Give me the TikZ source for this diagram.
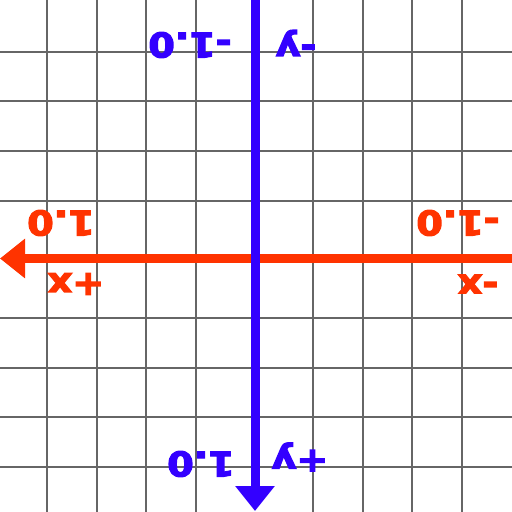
\documentclass[tikz,border=0pt]{standalone}
\usepackage{fontspec}
\newfontfamily\lblfont{DejaVu Sans Bold}[FakeBold=3.5]
\usepackage{xcolor}
\usepackage{tikz}
\usetikzlibrary{arrows.meta}
\definecolor{axisred}{HTML}{FF3300}
\definecolor{axisblue}{HTML}{3300FF}
\definecolor{gridgray}{HTML}{666666}
\newcommand{\wide}[1]{\scalebox{1.12}[1]{#1}}

\begin{document}
\begin{tikzpicture}[x=1pt, y=-1pt,
    gridline/.style={draw=gridgray, line width=1.6pt},
    axisline/.style={line width=9pt, -{Triangle[length=25pt, width=38pt]}},
    lbl/.style={rotate=180, inner sep=0pt, font=\lblfont\fontsize{34}{34}\selectfont}]
  \useasboundingbox (0,0) rectangle (512,512);
  \fill[white] (0,0) rectangle (512,512);
  % grid
  \foreach \g in {47, 97, 146, 196, 313, 363, 412, 462}
    \draw[gridline] (\g,0) -- (\g,512);
  \foreach \g in {52, 101, 151, 201, 318, 368, 417, 467}
    \draw[gridline] (0,\g) -- (512,\g);
  % axes
  \coordinate (xstart) at (512,258.5);
  \coordinate (xend) at (0,258.5);
  \coordinate (ystart) at (255,0);
  \coordinate (yend) at (255,511);
  \draw[axisline, axisred] (xstart) -- (xend);
  \draw[axisline, axisblue] (ystart) -- (yend);
  % labels
  \node[lbl, text=axisred] (xone) at (61,223) {\wide{1.0}};
  \node[lbl, text=axisred] (xmone) at (458,223) {\wide{-1.0}};
  \node[lbl, text=axisred] (xplus) at (76,284) {\wide{+x}};
  \node[lbl, text=axisred] (xminus) at (478,284) {\wide{-x}};
  \node[lbl, text=axisblue] (ymone) at (190,45) {\wide{-1.0}};
  \node[lbl, text=axisblue] (yminus) at (296,43) {\wide{-y}};
  \node[lbl, text=axisblue] (yone) at (201,464) {\wide{1.0}};
  \node[lbl, text=axisblue] (yplus) at (300,457) {\wide{+y}};
\end{tikzpicture}
\end{document}
